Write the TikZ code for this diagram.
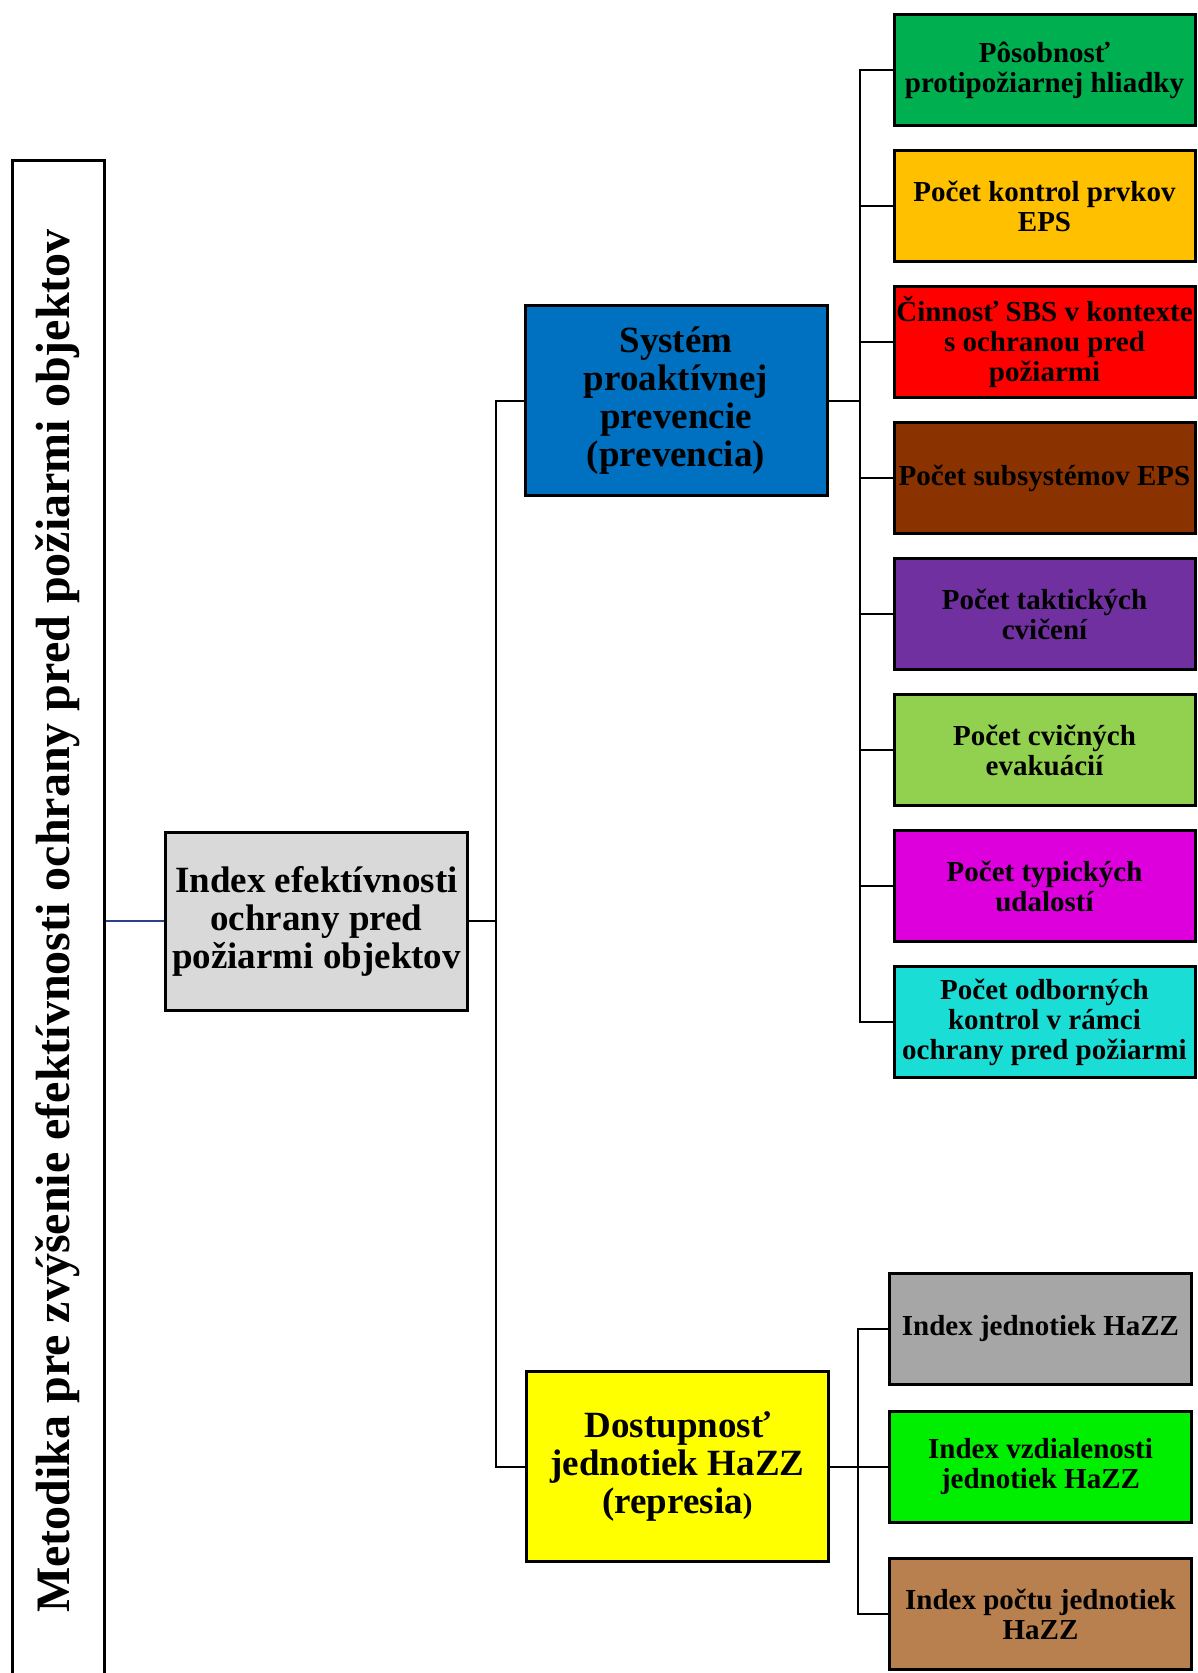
\documentclass[tikz,border=0pt]{standalone}
\usepackage{fontspec}
\setmainfont{Liberation Serif}
\usepackage{tikz}
\usetikzlibrary{positioning}
\definecolor{cgreen}{HTML}{00B050}
\definecolor{corange}{HTML}{FFC000}
\definecolor{cred}{HTML}{FF0000}
\definecolor{cbrown}{HTML}{8A3300}
\definecolor{cpurple}{HTML}{7030A0}
\definecolor{clime}{HTML}{92D050}
\definecolor{cmagenta}{HTML}{DD00DD}
\definecolor{ccyan}{HTML}{1ADDD5}
\definecolor{cgray}{HTML}{A6A6A6}
\definecolor{cgreenb}{HTML}{00EE00}
\definecolor{ctan}{HTML}{B8804F}
\definecolor{cblue}{HTML}{0070C0}
\definecolor{cyellow}{HTML}{FFFF00}
\definecolor{clight}{HTML}{D9D9D9}
\definecolor{cnavy}{HTML}{2F3F8F}
\tikzset{
  box/.style={rectangle,draw,line width=3pt,align=center,inner sep=2pt,minimum width=302pt,font=\bfseries\fontsize{37}{38}\selectfont},
  leaf/.style={rectangle,draw,line width=3pt,align=center,inner xsep=0pt,minimum width=301pt,minimum height=111pt,font=\bfseries\fontsize{29}{30}\selectfont},
  titlebox/.style={rectangle,draw,line width=3pt,minimum width=1522pt,minimum height=92pt,font=\bfseries\fontsize{48}{52}\selectfont},
  line/.style={line width=2pt}
}

\begin{document}
\begin{tikzpicture}[x=1pt, y=-1pt, node distance=22pt]
\useasboundingbox (0,0) rectangle (1197,1673);
\node[titlebox, rotate=90] (meta) at (58,921) {Metodika pre zvýšenie efektívnosti ochrany pred požiarmi objektov};
\node[box, fill=clight, minimum height=178pt] (idx) at (316.5,921) {Index efektívnosti\\ochrany pred\\požiarmi objektov};
\node[box, fill=cblue, minimum height=190pt] (prev) at (676,400.5) {Systém\\proaktívnej\\prevencie\\(prevencia)};
\node[box, fill=cyellow, minimum height=190pt] (rep) at (677.5,1466.5) {Dostupnosť\\jednotiek HaZZ\\(represia{\fontsize{29}{30}\selectfont)}};
% prevencia
\node[leaf, fill=cgreen] (p1) at (1044.5,70) {Pôsobnosť\\protipožiarnej hliadky};
\node[leaf, fill=corange, below=of p1] (p2) {Počet kontrol prvkov\\EPS};
\node[leaf, fill=cred, below=of p2] (p3) {Činnosť SBS v kontexte\\s ochranou pred\\požiarmi};
\node[leaf, fill=cbrown, below=of p3] (p4) {Počet subsystémov EPS};
\node[leaf, fill=cpurple, below=of p4] (p5) {Počet taktických\\cvičení};
\node[leaf, fill=clime, below=of p5] (p6) {Počet cvičných\\evakuácií};
\node[leaf, fill=cmagenta, below=of p6] (p7) {Počet typických\\udalostí};
\node[leaf, fill=ccyan, below=of p7] (p8) {Počet odborných\\kontrol v rámci\\ochrany pred požiarmi};
% represia
\node[leaf, fill=cgray, minimum width=302pt] (r1) at (1040.5,1329) {Index jednotiek HaZZ};
\node[leaf, fill=cgreenb, minimum width=302pt, below=24pt of r1] (r2) {Index vzdialenosti\\jednotiek HaZZ};
\node[leaf, fill=ctan, minimum width=302pt, below=33pt of r2] (r3) {Index počtu jednotiek\\HaZZ};
\draw[line width=1.5pt, draw=cnavy] (meta.south) -- (idx.west);
\draw[line] (idx.east) -- ++(27,0) coordinate (hub) |- (prev.west);
\draw[line] (hub) |- (rep.west);
\foreach \i in {1,...,8}
  \draw[line] (prev.east) -- ++(31,0) |- (p\i.west);
\foreach \i in {1,2,3}
  \draw[line] (rep.east) -- ++(28,0) |- (r\i.west);
\end{tikzpicture}
\end{document}
